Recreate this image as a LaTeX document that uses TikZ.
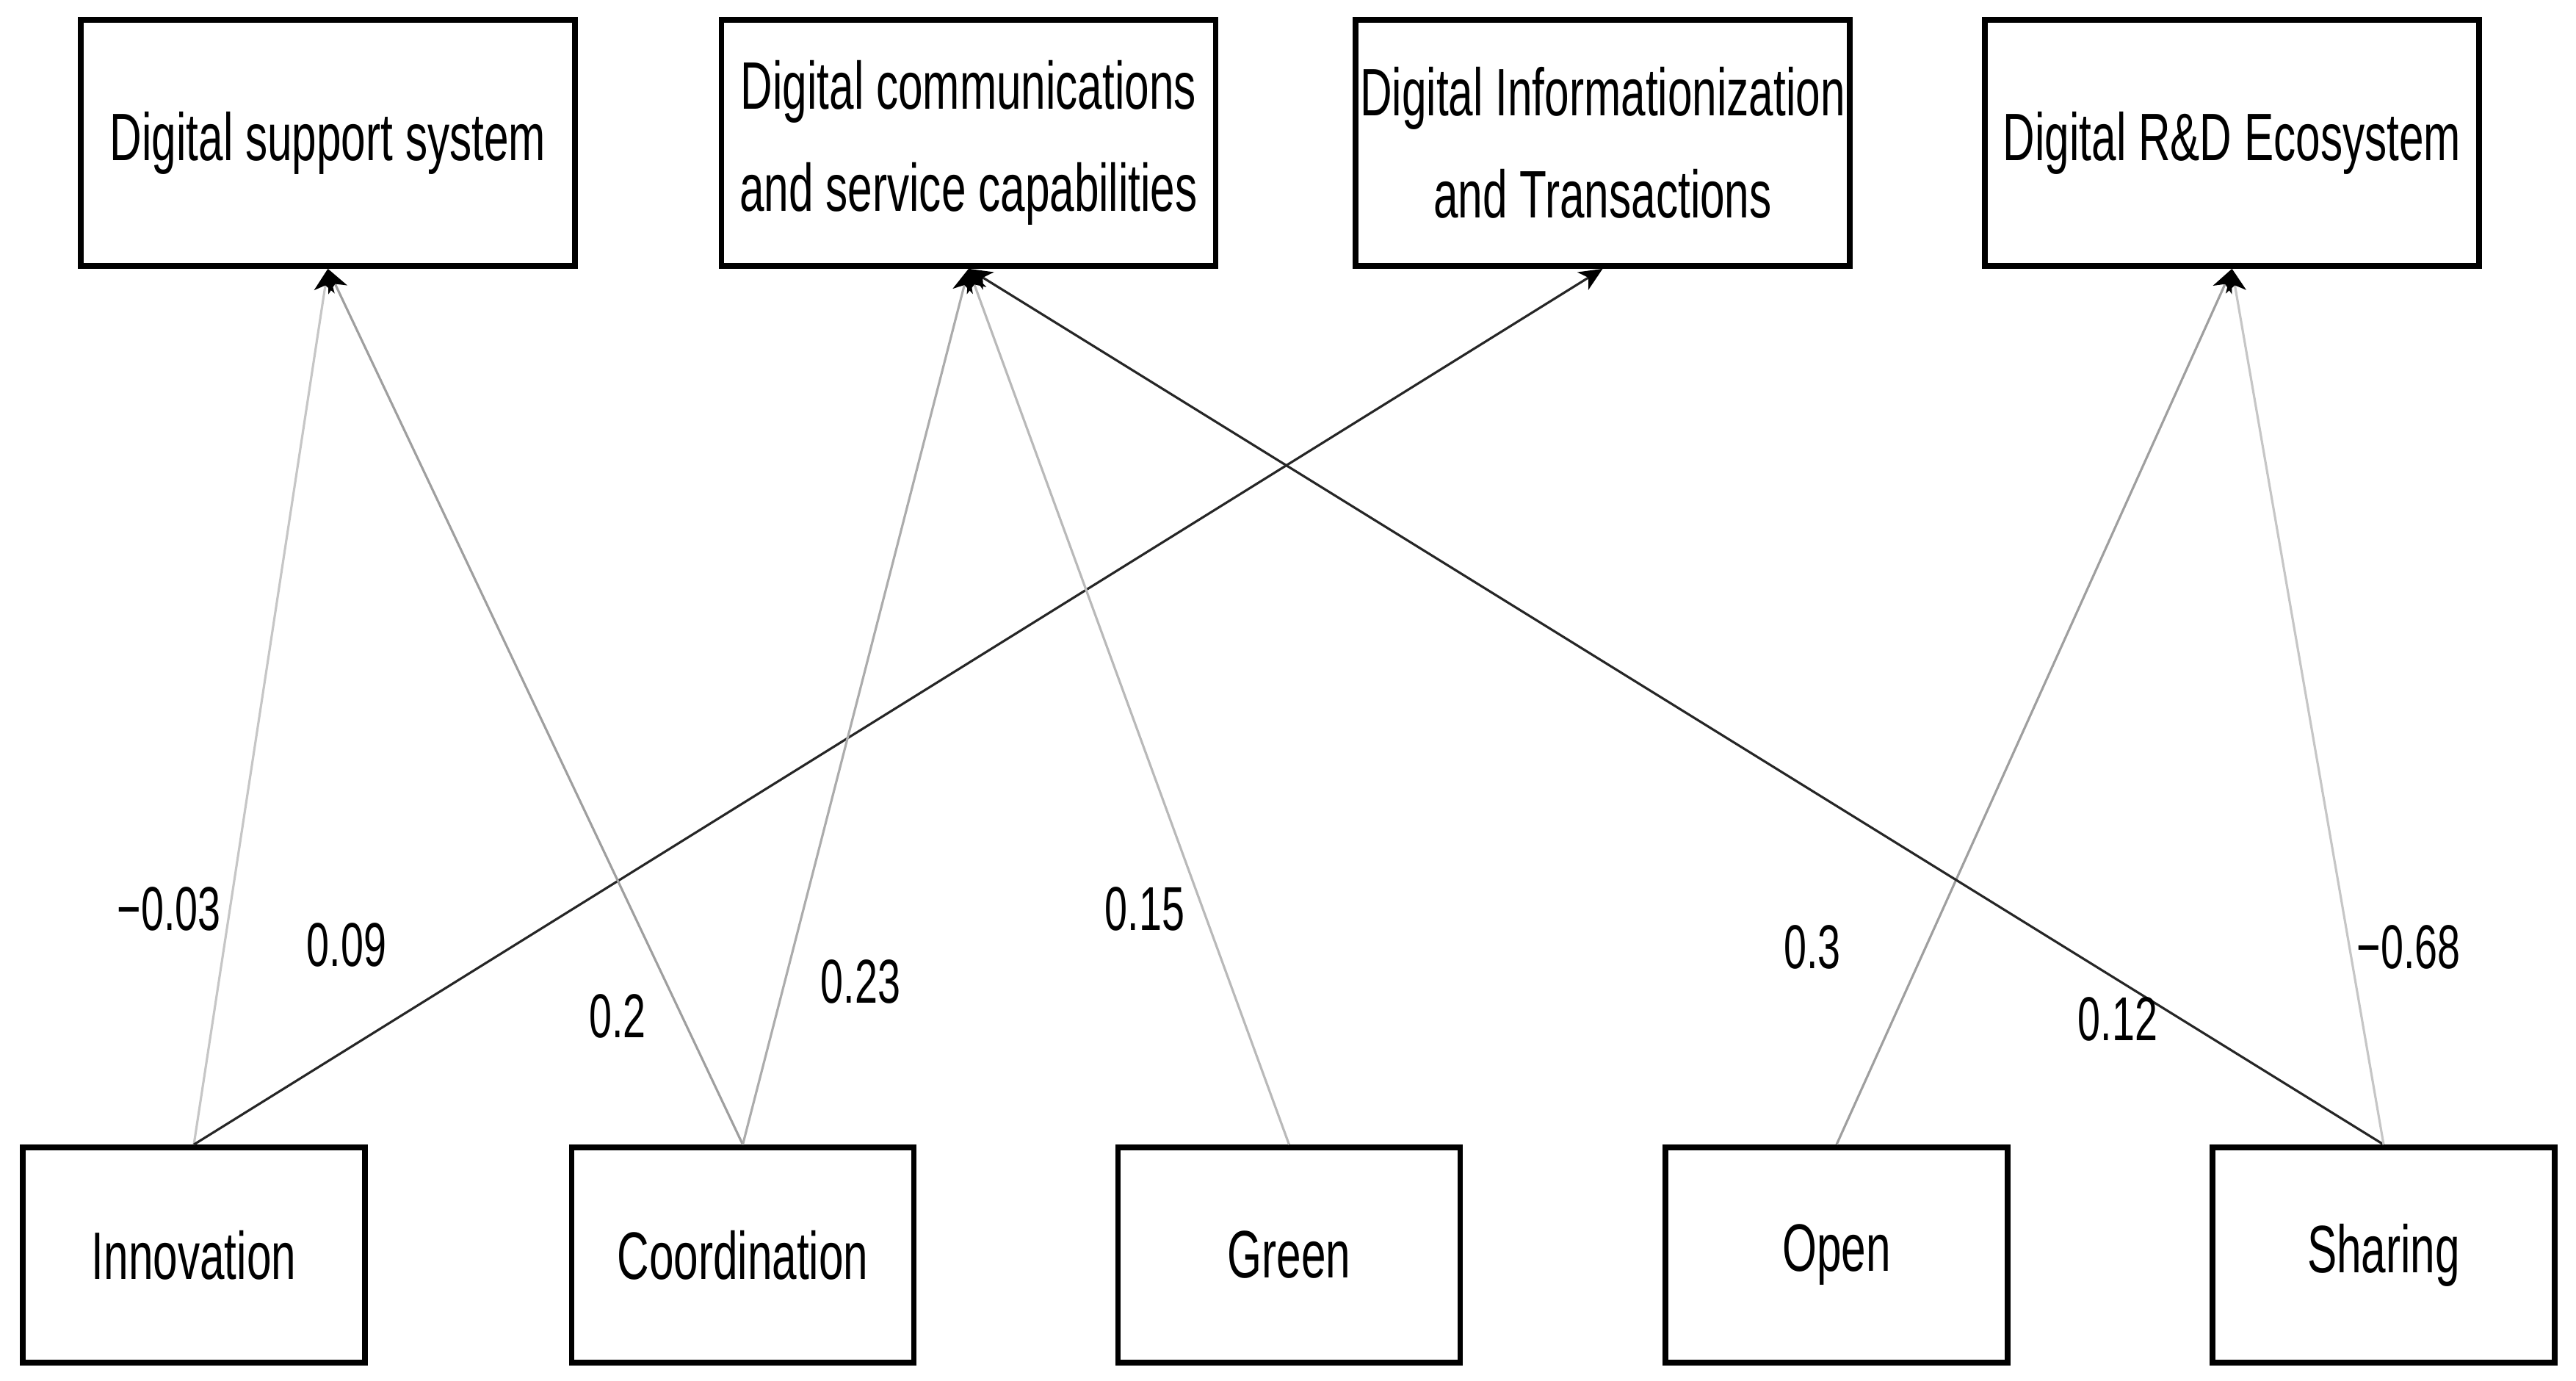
\documentclass[tikz,border=0pt]{standalone}
\usepackage{fontspec}
\setmainfont[FakeStretch=0.66]{Liberation Sans}
\usetikzlibrary{arrows.meta}
\begin{document}
\begin{tikzpicture}[
  topbox/.style={draw=black, line width=2.2pt, minimum width=6.73cm, minimum height=3.35cm, align=center, inner sep=0pt,
    font=\fontsize{26}{39.5}\selectfont},
  botbox/.style={draw=black, line width=2.2pt, minimum width=4.66cm, minimum height=2.93cm, inner sep=0pt,
    font=\fontsize{26}{30}\selectfont},
  edge/.style={line width=0.9pt, -{Stealth[length=9pt,width=8pt,inset=2.5pt,color=black]}},
  lbl/.style={font=\fontsize{24}{28}\selectfont, inner sep=0pt}
]
\useasboundingbox (0,0) rectangle (35.08,18.79);
\node[topbox] (b1) at (4.465,16.845) {Digital support system};
\node[topbox] (b2) at (13.19,16.845) {Digital communications\\and service capabilities};
\node[topbox] (b3) at (21.825,16.845) {Digital Informationization\\and Transactions};
\node[topbox] (b4) at (30.395,16.845) {Digital R\&D Ecosystem};

\node[botbox] (inn) at (2.64,1.705) {Innovation};
\node[botbox] (coo) at (10.115,1.705) {Coordination};
\node[botbox] (gre) at (17.555,1.705) {Green};
\node[botbox] (ope) at (25.01,1.705) {Open};
\node[botbox] (sha) at (32.46,1.705) {Sharing};

\draw[edge, draw=gray!45] (inn.north) -- (b1.south);
\draw[edge, draw=black!85] (inn.north) -- (b3.south);
\draw[edge, draw=gray!75] (coo.north) -- (b1.south);
\draw[edge, draw=gray!65] (coo.north) -- (b2.south);
\draw[edge, draw=gray!55] (gre.north) -- (b2.south);
\draw[edge, draw=gray!75] (ope.north) -- (b4.south);
\draw[edge, draw=black!85] (sha.north) -- (b2.south);
\draw[edge, draw=gray!45] (sha.north) -- (b4.south);

\node[lbl] (l1) at (2.30,6.42) {−0.03};
\node[lbl] (l2) at (4.72,5.93) {0.09};
\node[lbl] (l3) at (8.41,4.96) {0.2};
\node[lbl] (l4) at (11.72,5.43) {0.23};
\node[lbl] (l5) at (15.59,6.42) {0.15};
\node[lbl] (l6) at (24.68,5.90) {0.3};
\node[lbl] (l7) at (28.84,4.92) {0.12};
\node[lbl] (l8) at (32.80,5.90) {−0.68};
\end{tikzpicture}
\end{document}
